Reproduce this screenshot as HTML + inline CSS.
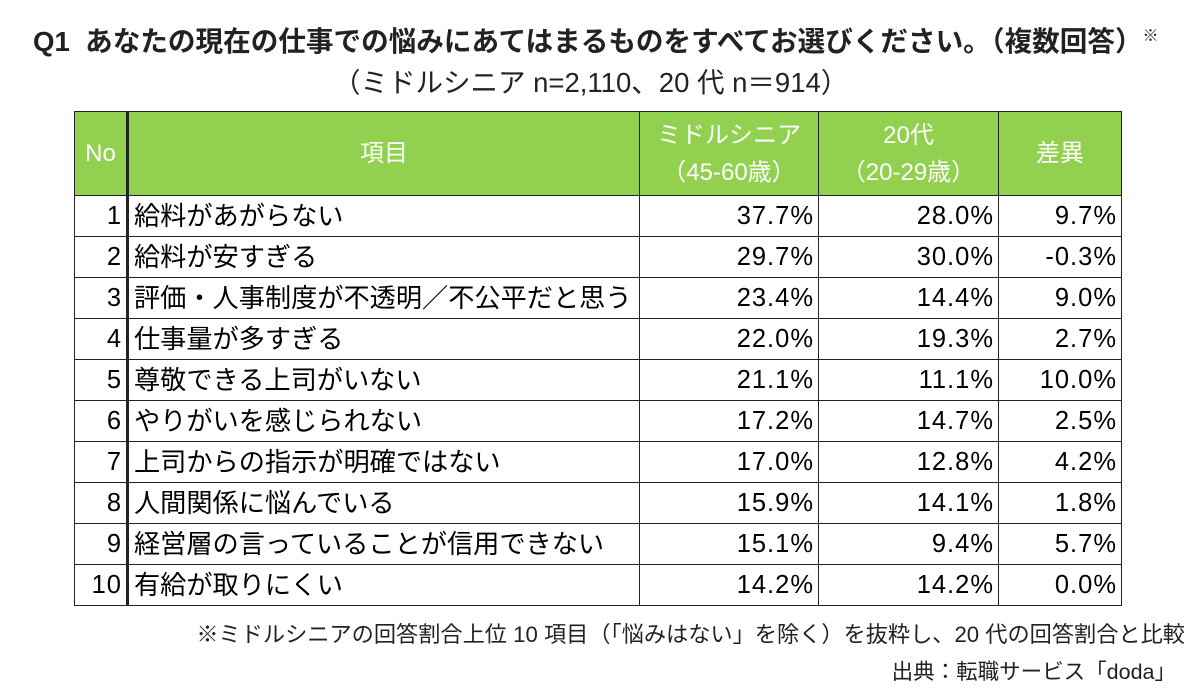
<!DOCTYPE html>
<html><head><meta charset="utf-8"><style>
body{margin:0;width:1200px;height:698px;background:#fff;font-family:"Liberation Sans","Noto Sans CJK JP",sans-serif;color:#000;position:relative;overflow:hidden}
.t{position:absolute;white-space:nowrap}
table{position:absolute;left:74px;top:111px;border-collapse:collapse;table-layout:fixed}
td{border:1.5px solid #222;font-size:25.5px;padding:0 5px;height:40px;line-height:40px;white-space:nowrap;overflow:hidden}
td.it{font-size:26.2px}
th{background:#92D050;color:#fff;font-weight:normal;font-size:24px;border:1.5px solid #222;height:81px;line-height:37px}
td.n,td.v{text-align:right;padding-right:4px;letter-spacing:1px}
td.c0{border-right:3px solid #222}
th.c0{border-right:3px solid #222}
</style></head><body>
<div class="t" style="left:33px;top:19px;font-size:27.6px;font-weight:bold;color:#222">Q1&nbsp; あなたの現在の仕事での悩みにあてはまるものをすべてお選びください。（複数回答）<sup style="font-size:16px">※</sup></div>
<div class="t" style="left:333px;top:60px;font-size:27.5px;color:#222">（ミドルシニア n=2,110、20 代 n＝914）</div>
<table>
<colgroup><col style="width:53px"><col style="width:512px"><col style="width:179px"><col style="width:180px"><col style="width:123px"></colgroup>
<thead><tr><th class="c0">No</th><th>項目</th><th>ミドルシニア<br>（45-60歳）</th><th>20代<br>（20-29歳）</th><th>差異</th></tr></thead>
<tbody id="tb"></tbody></table>
<div class="t" style="right:15px;top:617px;font-size:22.2px;color:#222">※ミドルシニアの回答割合上位 10 項目（「悩みはない」を除く）を抜粋し、20 代の回答割合と比較</div>
<div class="t" style="right:24px;top:655px;font-size:21.5px;color:#222">出典：転職サービス「doda」</div>
<script>
const items=["給料があがらない","給料が安すぎる","評価・人事制度が不透明／不公平だと思う","仕事量が多すぎる","尊敬できる上司がいない","やりがいを感じられない","上司からの指示が明確ではない","人間関係に悩んでいる","経営層の言っていることが信用できない","有給が取りにくい"];
const senior=["37.7%","29.7%","23.4%","22.0%","21.1%","17.2%","17.0%","15.9%","15.1%","14.2%"];
const young=["28.0%","30.0%","14.4%","19.3%","11.1%","14.7%","12.8%","14.1%","9.4%","14.2%"];
const diff=["9.7%","-0.3%","9.0%","2.7%","10.0%","2.5%","4.2%","1.8%","5.7%","0.0%"];
const tb=document.getElementById('tb');
items.forEach((it,i)=>{
const tr=document.createElement('tr');


tr.innerHTML='<td class="n c0">'+(i+1)+'</td><td class="it">'+it+'</td><td class="v">'+senior[i]+'</td><td class="v">'+young[i]+'</td><td class="v">'+diff[i]+'</td>';
tb.appendChild(tr);
});
</script>
</body></html>
